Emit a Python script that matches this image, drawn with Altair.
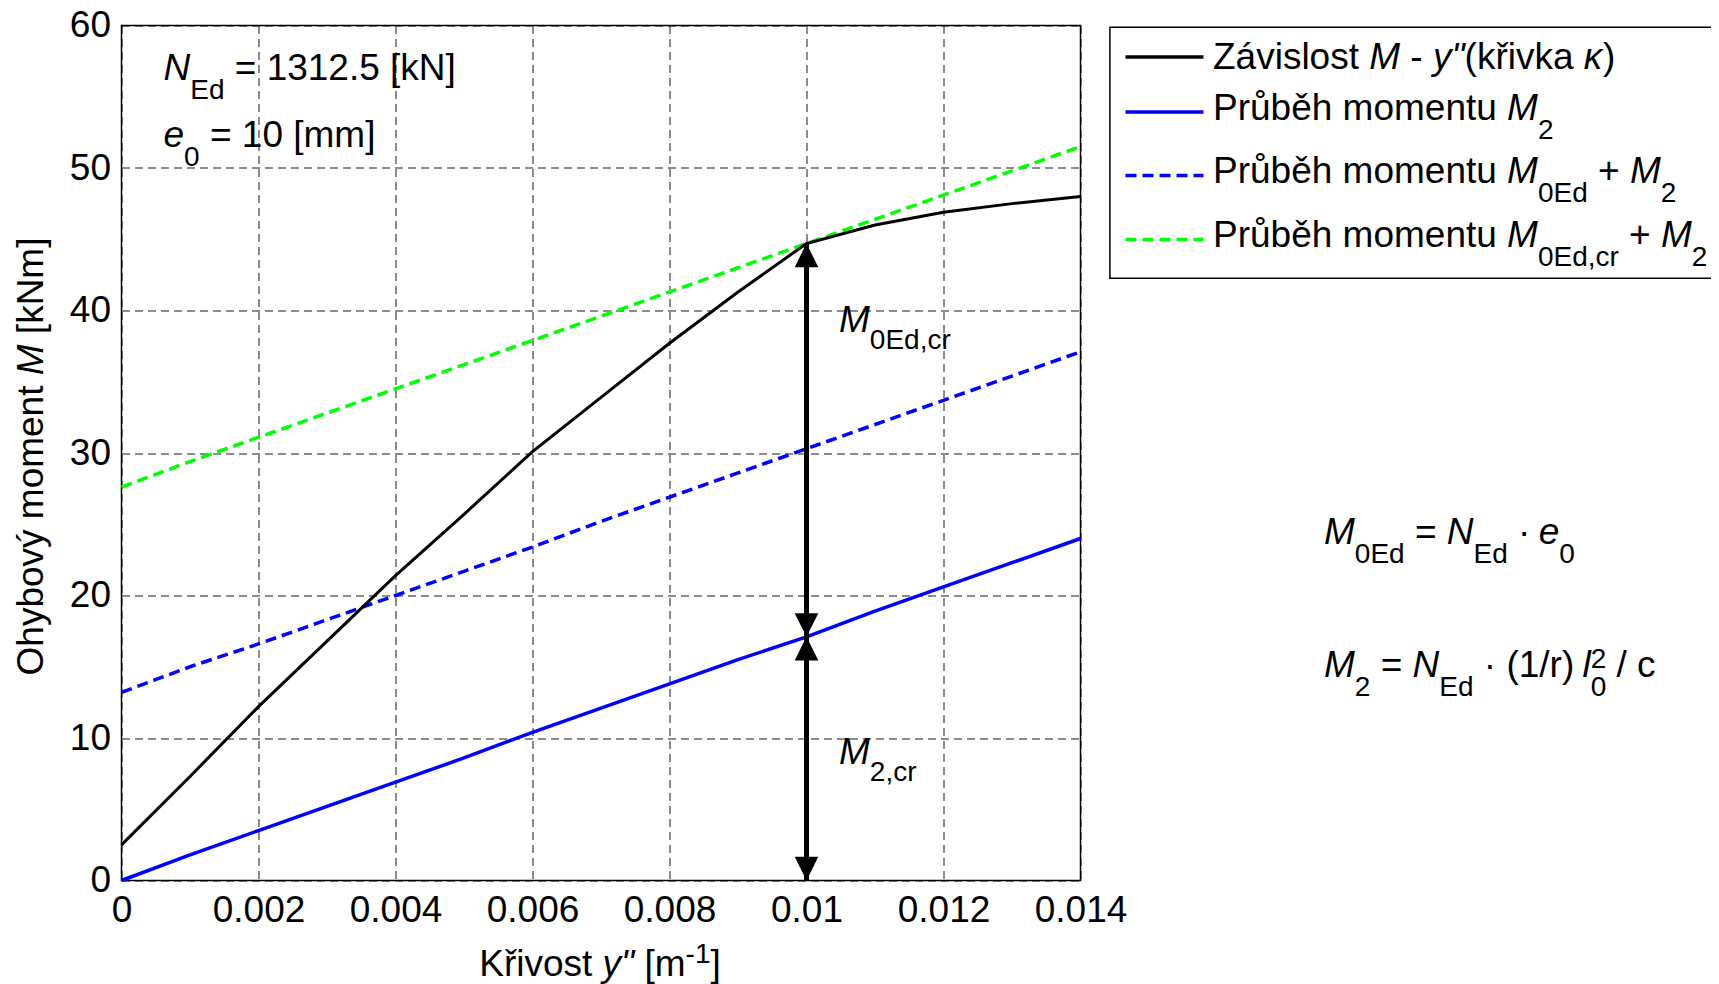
import altair as alt
import pandas as pd

# ---------------- data ----------------
kappa = [0.000, 0.001, 0.002, 0.003, 0.004, 0.005, 0.006, 0.007,
         0.008, 0.009, 0.010, 0.011, 0.012, 0.013, 0.014]
m_curve = [2.5, 7.3, 12.2, 16.8, 21.4, 25.7, 30.1, 33.9,
           37.7, 41.3, 44.7, 46.0, 46.9, 47.5, 48.0]
m2 = [0.0, 1.8, 3.5, 5.2, 6.9, 8.6, 10.4, 12.1,
      13.8, 15.5, 17.1, 18.9, 20.6, 22.3, 24.0]
m0ed_m2 = [13.2, 15.0, 16.6, 18.3, 20.0, 21.7, 23.4, 25.2,
           26.9, 28.6, 30.3, 32.0, 33.7, 35.4, 37.1]
m0edcr_m2 = [27.6, 29.4, 31.1, 32.8, 34.5, 36.2, 37.9, 39.6,
             41.3, 43.0, 44.7, 46.4, 48.1, 49.8, 51.5]

arrow_x = [0.010]
arrow_levels = [0.0, 17.1, 44.7]          # bottom, M2,cr, top
x_ticks = [0, 0.002, 0.004, 0.006, 0.008, 0.010, 0.012, 0.014]
y_ticks = [0, 10, 20, 30, 40, 50, 60]

# ---------------- layout ----------------
PW, PH = 959, 855
FONT = "Liberation Sans"
F, S = 37, 28          # main / sub-superscript font size

W = {' ': 278, '!': 278, '"': 355, '(': 333, ')': 333, '+': 584, ',': 278,
     '-': 333, '.': 278, '/': 278, '=': 584, '[': 278, ']': 278, '·': 278,
     'A': 667, 'B': 667, 'C': 722, 'D': 722, 'E': 667, 'F': 611, 'G': 778,
     'H': 722, 'I': 278, 'J': 500, 'K': 667, 'L': 556, 'M': 833, 'N': 722,
     'O': 778, 'P': 667, 'Q': 778, 'R': 722, 'S': 667, 'T': 611, 'U': 722,
     'V': 667, 'W': 944, 'X': 667, 'Y': 667, 'Z': 611,
     'a': 556, 'b': 556, 'c': 500, 'd': 556, 'e': 556, 'f': 278, 'g': 556,
     'h': 556, 'i': 222, 'j': 222, 'k': 500, 'l': 222, 'm': 833, 'n': 556,
     'o': 556, 'p': 556, 'q': 556, 'r': 333, 's': 500, 't': 278, 'u': 556,
     'v': 500, 'w': 722, 'x': 500, 'y': 500, 'z': 500,
     'á': 556, 'ý': 500, 'ř': 333, 'ů': 556, 'ě': 556, 'κ': 520}


def tw(s, size):
    return sum(W.get(c, 556) for c in s) * size / 1000.0


def piece_width(text, kind):
    if kind in ('n', 'i'):
        return tw(text, F)
    if kind == 'subsup':
        a, b = text.split('|')
        return max(tw(a, S), tw(b, S))
    return tw(text, S)


def rich(pieces, x0, y0, drop=19, rise=9, anchor='left', angle=0):
    total = sum(piece_width(t, k) for t, k in pieces)
    off = -total / 2 if anchor == 'center' else 0.0
    rows = []
    for text, kind in pieces:
        w = piece_width(text, kind)

        def put(t, size, style, dy):
            lead = tw(t[:len(t) - len(t.lstrip(' '))], size)
            t = t.strip(' ')
            if not t:
                return
            if angle == 0:
                rows.append(dict(x=x0 + off + lead, y=y0 + dy, text=t, size=size,
                                 style=style, angle=0))
            else:
                rows.append(dict(x=x0 + dy, y=y0 - off - lead, text=t, size=size,
                                 style=style, angle=angle))
        if kind == 'n':
            put(text, F, 'normal', 0)
        elif kind == 'i':
            put(text, F, 'italic', 0)
        elif kind == 'sub':
            put(text, S, 'normal', drop)
        elif kind == 'sup':
            put(text, S, 'normal', -rise)
        elif kind == 'subsup':
            a, b = text.split('|')
            put(a, S, 'normal', -rise)
            put(b, S, 'normal', drop)
        off += w
    return rows


rows = []
# annotations inside the plot
rows += rich([("N", 'i'), ("Ed", 'sub'), (" = 1312.5 [kN]", 'n')], 42, 54.5)
rows += rich([("e", 'i'), ("0", 'sub'), (" = 10 [mm]", 'n')], 42, 121)
rows += rich([("M", 'i'), ("0Ed,cr", 'sub')], 717.5, 306, drop=17.5)
rows += rich([("M", 'i'), ("2,cr", 'sub')], 717.5, 738, drop=17.5)
# formulas
rows += rich([("M", 'i'), ("0Ed", 'sub'), (" = ", 'n'), ("N", 'i'), ("Ed", 'sub'),
              (" · ", 'n'), ("e", 'i'), ("0", 'sub')], 1202.5, 518)
rows += rich([("M", 'i'), ("2", 'sub'), (" = ", 'n'), ("N", 'i'), ("Ed", 'sub'),
              (" · (1/r) ", 'n'), ("l", 'i'), ("2|0", 'subsup'), (" / c", 'n')],
             1202.5, 651, rise=8.5)
# legend texts
LX = 1091.5
rows += rich([("Závislost ", 'n'), ("M", 'i'), (" - ", 'n'), ('y"', 'i'),
              ("(křivka ", 'n'), ("κ", 'i'), (")", 'n')], LX, 43)
rows += rich([("Průběh momentu ", 'n'), ("M", 'i'), ("2", 'sub')], LX, 94)
rows += rich([("Průběh momentu ", 'n'), ("M", 'i'), ("0Ed", 'sub'), (" + ", 'n'),
              ("M", 'i'), ("2", 'sub')], LX, 157.5)
rows += rich([("Průběh momentu ", 'n'), ("M", 'i'), ("0Ed,cr", 'sub'), (" + ", 'n'),
              ("M", 'i'), ("2", 'sub')], LX, 221.5)
# axis titles
rows += rich([("Křivost ", 'n'), ('y"', 'i'), (" [m", 'n'), ("-1", 'sup'), ("]", 'n')],
             478.5, 950, rise=13, anchor='center')
rows += rich([("Ohybový moment ", 'n'), ("M", 'i'), (" [kNm]", 'n')],
             -78.5, 431, anchor='center', angle=270)
text_df = pd.DataFrame(rows)

# ---------------- chart ----------------
xs = alt.Scale(domain=[0, 0.014], nice=False, zero=False)
ys = alt.Scale(domain=[0, 60], nice=False, zero=False)
X = alt.X("kappa:Q", scale=xs,
          axis=alt.Axis(values=x_ticks, format="~g", title=None))
Y = alt.Y("M:Q", scale=ys,
          axis=alt.Axis(values=y_ticks, format="d", title=None))


def series(vals):
    return pd.DataFrame({"kappa": kappa, "M": vals})


l_curve = alt.Chart(series(m_curve)).mark_line(color="black", strokeWidth=3).encode(x=X, y=Y)
l_m2 = alt.Chart(series(m2)).mark_line(color="#0000ff", strokeWidth=3.5).encode(x=X, y=Y)
l_m0 = alt.Chart(series(m0ed_m2)).mark_line(color="#0000ff", strokeWidth=3.5,
                                            strokeDash=[11, 6]).encode(x=X, y=Y)
l_mcr = alt.Chart(series(m0edcr_m2)).mark_line(color="#00ff00", strokeWidth=3.5,
                                               strokeDash=[11, 6]).encode(x=X, y=Y)

arrow_df = pd.DataFrame({"kappa": arrow_x, "M": [arrow_levels[0]], "M2": [arrow_levels[2]]})
arrow_line = alt.Chart(arrow_df).mark_rule(color="black", strokeWidth=5).encode(
    x=X, y=Y, y2="M2:Q")
heads_up = pd.DataFrame({"kappa": arrow_x * 2, "M": [arrow_levels[1], arrow_levels[2]]})
heads_dn = pd.DataFrame({"kappa": arrow_x * 2, "M": [arrow_levels[0], arrow_levels[1]]})
up = alt.Chart(heads_up).mark_point(shape="M0,0L-1,2L1,2Z", filled=True, size=560,
                                    color="black", opacity=1, strokeWidth=0).encode(x=X, y=Y)
dn = alt.Chart(heads_dn).mark_point(shape="M0,0L-1,-2L1,-2Z", filled=True, size=560,
                                    color="black", opacity=1, strokeWidth=0).encode(x=X, y=Y)

PX = lambda f: alt.X(f, type="quantitative", scale=None, axis=None)
PY = lambda f: alt.Y(f, type="quantitative", scale=None, axis=None)

legend_box = alt.Chart(pd.DataFrame({"x": [988.4], "x2": [1680], "y": [1.8], "y2": [252.8]})) \
    .mark_rect(fill="white", stroke="black", strokeWidth=1.5).encode(
        x=PX("x"), x2="x2:Q", y=PY("y"), y2="y2:Q")

leg_rows = [
    ("black", None, 31.5),
    ("#0000ff", None, 86.5),
    ("#0000ff", [11, 6], 150),
    ("#00ff00", [11, 6], 214),
]
leg_layers = []
for col, dash, yy in leg_rows:
    d = pd.DataFrame({"x": [1004], "x2": [1082], "y": [yy]})
    mk = dict(color=col, strokeWidth=3.5)
    if dash is not None:
        mk["strokeDash"] = dash
    leg_layers.append(alt.Chart(d).mark_rule(**mk).encode(
        x=PX("x"), x2="x2:Q", y=PY("y")))

text_layers = []
for style in ("normal", "italic"):
    for ang in (0, 270):
        sub = text_df[(text_df["style"] == style) & (text_df["angle"] == ang)]
        if len(sub) == 0:
            continue
        text_layers.append(
            alt.Chart(sub).mark_text(align="left", baseline="alphabetic", font=FONT,
                                     fontStyle=style, angle=ang, color="black").encode(
                x=PX("x"), y=PY("y"),
                size=alt.Size("size:Q", scale=None, legend=None),
                text="text:N"))

chart = alt.layer(
    l_mcr, l_m0, l_m2, l_curve, arrow_line, up, dn, legend_box, *leg_layers, *text_layers
).properties(
    width=PW, height=PH,
    autosize=alt.AutoSizeParams(type="none"),
    padding={"left": 113.5, "top": 17.5, "right": 630, "bottom": 103.5},
    background="white",
).configure_view(
    stroke="black", strokeWidth=1.5
).configure_axis(
    domain=False, ticks=True, tickSize=0,
    grid=True, gridColor="black", gridOpacity=0.9, gridWidth=1, gridDash=[8, 5],
    labelFont=FONT, labelFontSize=F, labelColor="black",
    labelOverlap=False, labelFlush=False, labelBound=False,
).configure_axisX(
    labelBaseline="alphabetic", labelPadding=41
).configure_axisY(
    labelPadding=11
)

chart.save("out.html", embed_options={"renderer": "svg", "actions": False})
